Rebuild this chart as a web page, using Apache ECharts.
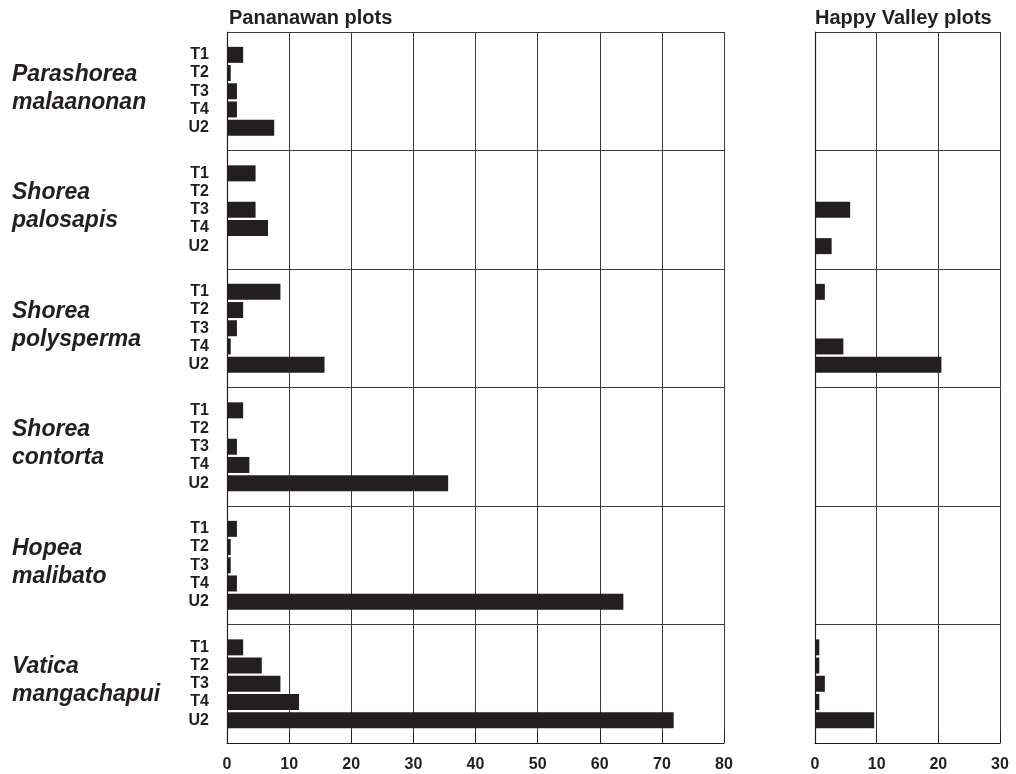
<!DOCTYPE html>
<html><head><meta charset="utf-8">
<script src="https://cdn.jsdelivr.net/npm/echarts@6/dist/echarts.min.js"></script>
<style>html,body{margin:0;padding:0;background:#fff}#c{width:1016px;height:774px}</style>
</head><body><div id="c"></div>
<script>
const species = ['Parashorea\nmalaanonan','Shorea\npalosapis','Shorea\npolysperma','Shorea\ncontorta','Hopea\nmalibato','Vatica\nmangachapui'];
const plots = ['T1','T2','T3','T4','U2'];
const pananawan = [
  [2.6, 0.6, 1.6, 1.6, 7.6],
  [4.6, 0, 4.6, 6.6, 0],
  [8.6, 2.6, 1.6, 0.6, 15.7],
  [2.6, 0, 1.6, 3.6, 35.6],
  [1.6, 0.6, 0.6, 1.6, 63.8],
  [2.6, 5.6, 8.6, 11.6, 71.9]
];
const happyValley = [
  [0, 0, 0, 0, 0],
  [0, 0, 5.7, 0, 2.7],
  [1.6, 0, 0, 4.6, 20.5],
  [0, 0, 0, 0, 0],
  [0, 0, 0, 0, 0],
  [0.7, 0.7, 1.6, 0.7, 9.6]
];
const panelTitles = ['Pananawan plots','Happy Valley plots'];
const xTicksL = {min:0, max:80, interval:10};
const xTicksR = {min:0, max:30, interval:10};

const FONT = "'Liberation Sans', Arial, sans-serif";
const INK = '#231f20';
const TOP = 32, BOTTOM = 743;
const BAND = (BOTTOM - TOP) / species.length;
const SLOT = 18.2;
const panels = [
  {left:227, width:497, scale:xTicksL, data:pananawan, labels:true},
  {left:815, width:185, scale:xTicksR, data:happyValley, labels:false}
];

const grid = [], xAxis = [], yAxis = [], series = [];
panels.forEach((p, pi) => {
  const gi = grid.length;
  grid.push({left:p.left, width:p.width, top:TOP, height:BOTTOM-TOP});
  xAxis.push({type:'value', gridIndex:gi, position:'bottom', min:p.scale.min, max:p.scale.max, interval:p.scale.interval,
    axisLine:{show:true, onZero:false, lineStyle:{color:INK, width:1.2}},
    axisTick:{show:true, inside:true, length:12, lineStyle:{color:INK}},
    axisLabel:{show:true, margin:14, color:INK, fontFamily:FONT, fontWeight:'bold', fontSize:16},
    splitLine:{show:true, lineStyle:{color:'#3a3a3a', width:1}}});
  yAxis.push({type:'value', gridIndex:gi, position:'left', min:0, max:species.length, interval:1, inverse:true,
    axisLine:{show:true, onZero:false, lineStyle:{color:INK, width:1.2}},
    axisTick:{show:false}, axisLabel:{show:false},
    splitLine:{show:true, lineStyle:{color:'#3a3a3a', width:1}}});
  species.forEach((s, si) => {
    const g = grid.length;
    grid.push({left:p.left, width:p.width, top:TOP + si*BAND + (BAND - 5*SLOT)/2, height:5*SLOT});
    xAxis.push({type:'value', gridIndex:g, min:p.scale.min, max:p.scale.max, show:false});
    yAxis.push({type:'category', gridIndex:g, data:plots, inverse:true,
      axisLine:{show:false}, axisTick:{show:false}, splitLine:{show:false},
      axisLabel:{show:p.labels, interval:0, hideOverlap:false, margin:18, color:INK, fontFamily:FONT, fontWeight:'bold', fontSize:16}});
    series.push({type:'bar', xAxisIndex:g, yAxisIndex:g, barWidth:16, silent:true, animation:false,
      data:p.data[si].map(v => v === 0 ? {value:v, itemStyle:{opacity:0}} : v),
      itemStyle:{color:INK}});
  });
});

const graphic = [];
species.forEach((s, si) => {
  graphic.push({type:'text', left:12, top:TOP + si*BAND + BAND/2 - 31,
    style:{text:s, font:"italic bold 23px " + FONT, fill:INK, lineHeight:28}});
});
graphic.push({type:'text', left:229, top:8, style:{text:panelTitles[0], font:"bold 20px " + FONT, fill:INK}});
graphic.push({type:'text', left:815, top:8, style:{text:panelTitles[1], font:"bold 20px " + FONT, fill:INK}});

const chart = echarts.init(document.getElementById('c'));
chart.setOption({animation:false, backgroundColor:'#fff', grid, xAxis, yAxis, series, graphic});
</script></body></html>
